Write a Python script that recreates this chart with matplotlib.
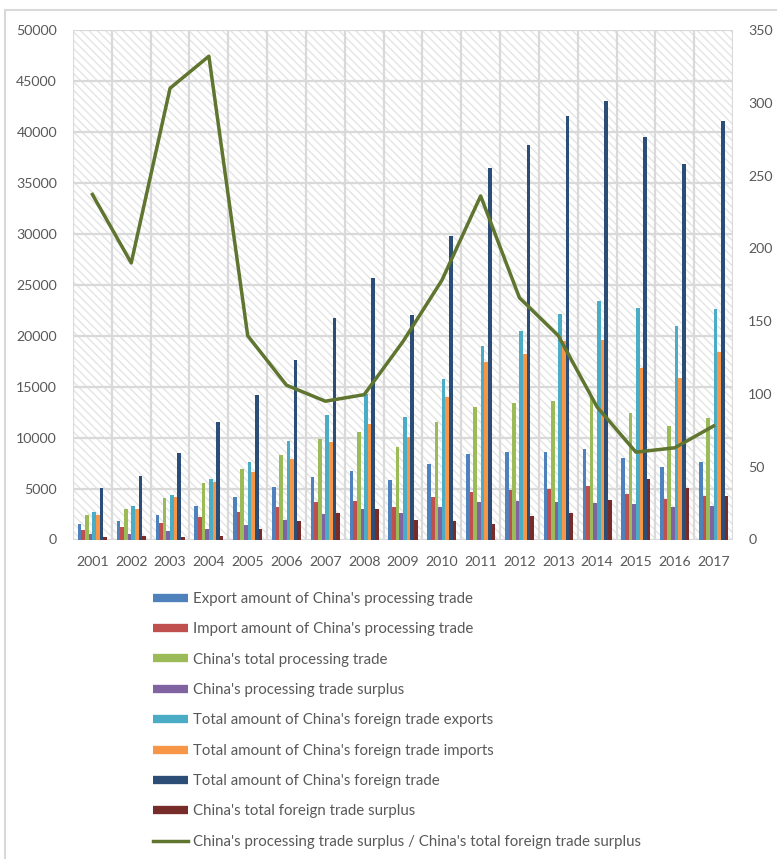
import matplotlib
matplotlib.use("Agg")
import matplotlib.pyplot as plt
import numpy as np
from matplotlib.patches import Rectangle
from matplotlib.lines import Line2D

years = ["2001", "2002", "2003", "2004", "2005", "2006", "2007", "2008", "2009",
         "2010", "2011", "2012", "2013", "2014", "2015", "2016", "2017"]

proc_export = [1474, 1799, 2418, 3280, 4165, 5104, 6176, 6751, 5870,
               7403, 8354, 8628, 8608, 8844, 7978, 7159, 7588]
proc_import = [940, 1222, 1629, 2217, 2740, 3215, 3685, 3784, 3223,
               4175, 4698, 4812, 4970, 5244, 4470, 3967, 4315]
proc_total = [2414, 3021, 4048, 5497, 6905, 8318, 9860, 10535, 9093,
              11578, 13052, 13440, 13578, 14088, 12448, 11126, 11903]
proc_surplus = [535, 577, 789, 1063, 1425, 1889, 2491, 2967, 2647,
                3229, 3657, 3816, 3638, 3600, 3508, 3192, 3273]
total_export = [2661, 3256, 4382, 5933, 7620, 9689, 12178, 14307, 12016,
                15778, 18984, 20487, 22090, 23423, 22735, 20976, 22635]
total_import = [2436, 2952, 4128, 5612, 6600, 7915, 9560, 11326, 10059,
                13962, 17435, 18184, 19500, 19592, 16796, 15879, 18410]
total_trade = [5097, 6208, 8510, 11546, 14219, 17604, 21737, 25633, 22075,
               29740, 36419, 38671, 41590, 43015, 39530, 36856, 41045]
total_surplus = [226, 304, 255, 321, 1020, 1775, 2618, 2981, 1957,
                 1815, 1549, 2303, 2590, 3831, 5939, 5097, 4225]
ratio = [237, 190, 310, 332, 140, 106, 95, 99.5, 136,
         178, 236, 166, 140, 91, 60, 63, 78]

series_names = [
    "Export amount of China's processing trade",
    "Import amount of China's processing trade",
    "China's total processing trade",
    "China's processing trade surplus",
    "Total amount of China's foreign trade exports",
    "Total amount of China's foreign trade imports",
    "Total amount of China's foreign trade",
    "China's total foreign trade surplus",
]
line_name = "China's processing trade surplus / China's total foreign trade surplus"
colors = ["#4F81BD", "#C0504D", "#9BBB59", "#8064A2", "#4BACC6", "#F79646",
          "#2C4D75", "#772C2A"]
line_color = "#5F7530"

plt.rcParams['font.family'] = ['Lato', 'DejaVu Sans']
txt = "#595959"
grid_c = "#D9D9D9"

W, H = 777, 859
fig = plt.figure(figsize=(W / 100, H / 100), dpi=100)
# outer frame
fig.patches.append(Rectangle((5 / W, -0.1), 1.2, 1 - 10 / H + 0.1, transform=fig.transFigure,
                             fill=False, edgecolor=grid_c, lw=1.5))

left, right, top, bottom = 73 / W, 733 / W, 1 - 30 / H, 1 - 539.5 / H
ax = fig.add_axes([left, bottom, right - left, top - bottom])
ax.set_facecolor("white")
ax.add_patch(Rectangle((0, 0), 1, 1, transform=ax.transAxes, facecolor="white",
                       edgecolor="#E4E4E4", hatch="\\\\\\\\", lw=0, zorder=0.1))

series = [proc_export, proc_import, proc_total, proc_surplus,
          total_export, total_import, total_trade, total_surplus]
x = np.arange(len(years))
n = len(series)
group_w = 0.75
bw = group_w / n
for i, (vals, c, name) in enumerate(zip(series, colors, series_names)):
    ax.bar(x - group_w / 2 + bw * (i + 0.5), vals, width=bw, color=c, zorder=2, label=name,
           linewidth=0)

ax.set_xlim(-0.5, len(years) - 0.5)
ax.set_ylim(0, 50000)
ax.set_yticks(np.arange(0, 50001, 5000))
ax.set_xticks(x)
ax.set_xticklabels(years)
ax.set_axisbelow(True)
ax.grid(axis="y", color=grid_c, lw=1.6)
for b in np.arange(-0.5, len(years), 1.0):
    ax.axvline(b, color=grid_c, lw=1.6, zorder=0.5)
for s in ax.spines.values():
    s.set_visible(False)
ax.tick_params(axis="both", length=0, labelsize=10.2, colors=txt)
ax.tick_params(axis="y", pad=11.5)
ax.tick_params(axis="x", pad=12)

ax2 = ax.twinx()
ax2.plot(x, ratio, color=line_color, lw=2.5, zorder=3, label=line_name)
ax2.set_ylim(0, 350)
ax2.set_yticks(np.arange(0, 351, 50))
for s in ax2.spines.values():
    s.set_visible(False)
ax2.tick_params(axis="y", length=0, labelsize=10.2, colors=txt, pad=11)

handles = [Line2D([], [], color=c, lw=6, solid_capstyle="butt") for c in colors]
handles.append(Line2D([], [], color=line_color, lw=2.5))
labels = series_names + [line_name]
leg = fig.legend(handles, labels, loc="upper left", bbox_to_anchor=(153 / W, 1 - 592 / H),
                 frameon=False, fontsize=10.8, handlelength=2.33, handletextpad=0.33,
                 labelspacing=1.09, borderpad=0, borderaxespad=0)
for t in leg.get_texts():
    t.set_color(txt)

fig.savefig("out.png", dpi=100)
